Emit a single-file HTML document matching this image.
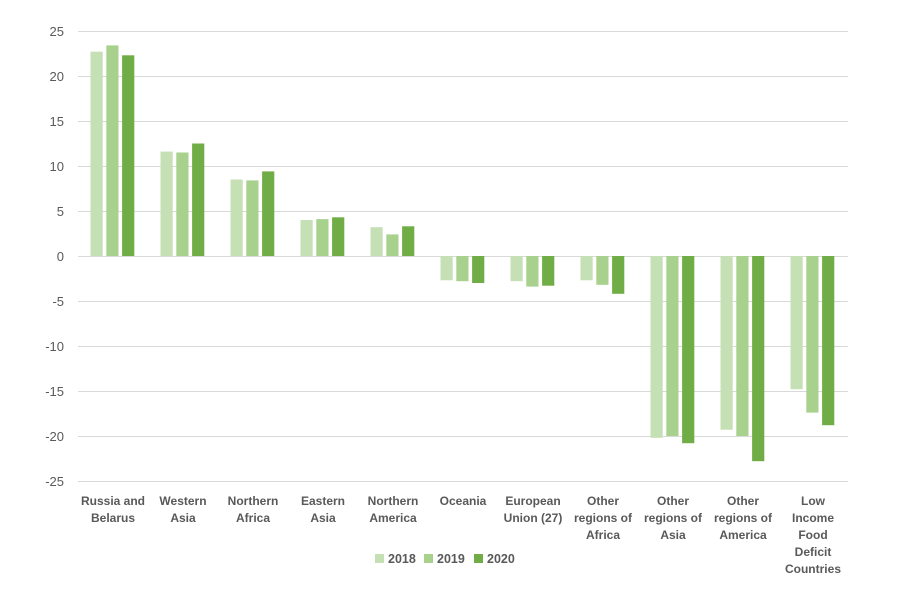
<!DOCTYPE html>
<html><head><style>body{margin:0;background:#fff}svg{display:block;font-family:"Liberation Sans",sans-serif}</style></head><body>
<svg width="903" height="599" xmlns="http://www.w3.org/2000/svg">
<g stroke="#d9d9d9" stroke-width="1">
<line x1="78" x2="848" y1="31.5" y2="31.5"/><line x1="78" x2="848" y1="76.5" y2="76.5"/><line x1="78" x2="848" y1="121.5" y2="121.5"/><line x1="78" x2="848" y1="166.5" y2="166.5"/><line x1="78" x2="848" y1="211.5" y2="211.5"/><line x1="78" x2="848" y1="256.5" y2="256.5"/><line x1="78" x2="848" y1="301.5" y2="301.5"/><line x1="78" x2="848" y1="346.5" y2="346.5"/><line x1="78" x2="848" y1="391.5" y2="391.5"/><line x1="78" x2="848" y1="436.5" y2="436.5"/><line x1="78" x2="848" y1="481.5" y2="481.5"/>
</g>
<g font-size="13" fill="#595959" text-anchor="end">
<text x="64" y="36">25</text><text x="64" y="81">20</text><text x="64" y="126">15</text><text x="64" y="171">10</text><text x="64" y="216">5</text><text x="64" y="261">0</text><text x="64" y="306">-5</text><text x="64" y="351">-10</text><text x="64" y="396">-15</text><text x="64" y="441">-20</text><text x="64" y="486">-25</text>
</g>
<g fill="#c5e0b4">
<rect x="90.5" y="51.7" width="12.2" height="204.3"/>
<rect x="160.5" y="151.6" width="12.2" height="104.4"/>
<rect x="230.5" y="179.5" width="12.2" height="76.5"/>
<rect x="300.5" y="220" width="12.2" height="36"/>
<rect x="370.5" y="227.2" width="12.2" height="28.8"/>
<rect x="440.5" y="256" width="12.2" height="24.3"/>
<rect x="510.5" y="256" width="12.2" height="25.2"/>
<rect x="580.5" y="256" width="12.2" height="24.3"/>
<rect x="650.5" y="256" width="12.2" height="181.8"/>
<rect x="720.5" y="256" width="12.2" height="173.7"/>
<rect x="790.5" y="256" width="12.2" height="133.2"/>
</g>
<g fill="#a9d18e">
<rect x="106.3" y="45.4" width="12.2" height="210.6"/>
<rect x="176.3" y="152.5" width="12.2" height="103.5"/>
<rect x="246.3" y="180.4" width="12.2" height="75.6"/>
<rect x="316.3" y="219.1" width="12.2" height="36.9"/>
<rect x="386.3" y="234.4" width="12.2" height="21.6"/>
<rect x="456.3" y="256" width="12.2" height="25.2"/>
<rect x="526.3" y="256" width="12.2" height="30.6"/>
<rect x="596.3" y="256" width="12.2" height="28.8"/>
<rect x="666.3" y="256" width="12.2" height="180"/>
<rect x="736.3" y="256" width="12.2" height="180"/>
<rect x="806.3" y="256" width="12.2" height="156.6"/>
</g>
<g fill="#70ad47">
<rect x="122.1" y="55.3" width="12.2" height="200.7"/>
<rect x="192.1" y="143.5" width="12.2" height="112.5"/>
<rect x="262.1" y="171.4" width="12.2" height="84.6"/>
<rect x="332.1" y="217.3" width="12.2" height="38.7"/>
<rect x="402.1" y="226.3" width="12.2" height="29.7"/>
<rect x="472.1" y="256" width="12.2" height="27"/>
<rect x="542.1" y="256" width="12.2" height="29.7"/>
<rect x="612.1" y="256" width="12.2" height="37.8"/>
<rect x="682.1" y="256" width="12.2" height="187.2"/>
<rect x="752.1" y="256" width="12.2" height="205.2"/>
<rect x="822.1" y="256" width="12.2" height="169.2"/>
</g>
<g font-size="12" font-weight="bold" fill="#595959" text-anchor="middle">
<text x="113" y="505">Russia and</text><text x="113" y="522">Belarus</text>
<text x="183" y="505">Western</text><text x="183" y="522">Asia</text>
<text x="253" y="505">Northern</text><text x="253" y="522">Africa</text>
<text x="323" y="505">Eastern</text><text x="323" y="522">Asia</text>
<text x="393" y="505">Northern</text><text x="393" y="522">America</text>
<text x="463" y="505">Oceania</text>
<text x="533" y="505">European</text><text x="533" y="522">Union (27)</text>
<text x="603" y="505">Other</text><text x="603" y="522">regions of</text><text x="603" y="539">Africa</text>
<text x="673" y="505">Other</text><text x="673" y="522">regions of</text><text x="673" y="539">Asia</text>
<text x="743" y="505">Other</text><text x="743" y="522">regions of</text><text x="743" y="539">America</text>
<text x="813" y="505">Low</text><text x="813" y="522">Income</text><text x="813" y="539">Food</text><text x="813" y="556">Deficit</text><text x="813" y="573">Countries</text>
</g>
<g font-size="12.5" font-weight="bold" fill="#595959">
<rect x="375" y="554" width="9" height="9" fill="#c5e0b4"/><text x="388" y="563">2018</text>
<rect x="424" y="554" width="9" height="9" fill="#a9d18e"/><text x="437" y="563">2019</text>
<rect x="474" y="554" width="9" height="9" fill="#70ad47"/><text x="487" y="563">2020</text>
</g>
</svg>
</body></html>
